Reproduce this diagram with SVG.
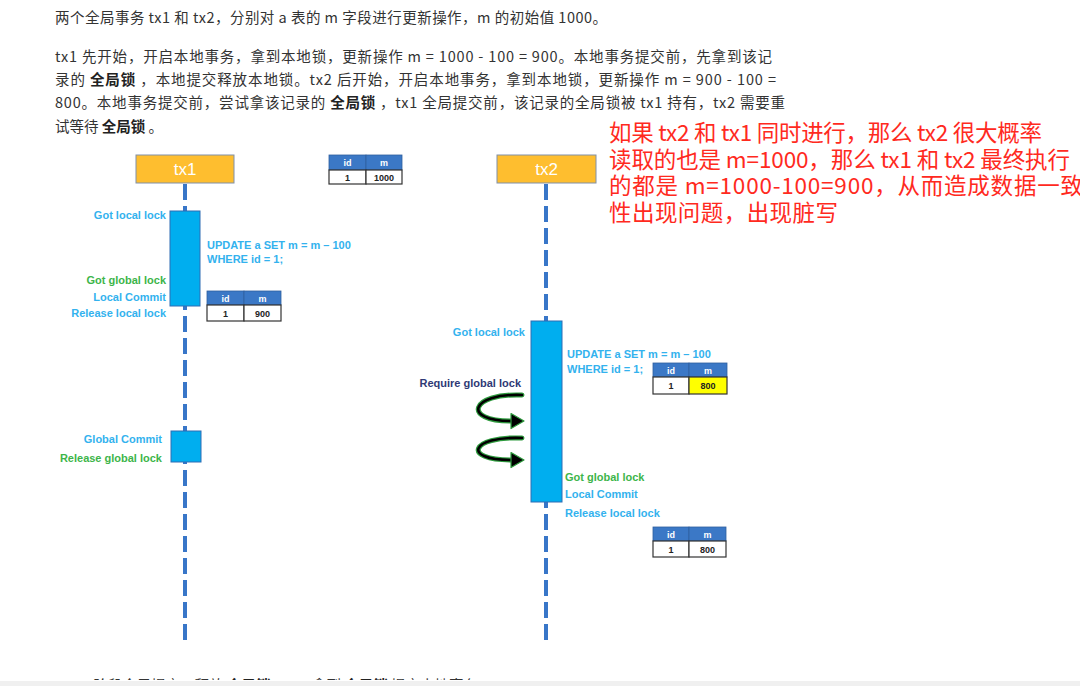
<svg xmlns="http://www.w3.org/2000/svg" width="1080" height="686" viewBox="0 0 1080 686">
<style>
.body{font-family:"Noto Sans CJK SC","Noto Sans",sans-serif;font-size:14.5px;fill:#333}
.b{font-weight:bold;fill:#222}
.note{font-family:"Noto Sans CJK SC","Noto Sans",sans-serif;font-size:22.5px;fill:#FF2A1E}
.lbl{font-family:"Liberation Sans",Arial,sans-serif;font-size:11px;font-weight:bold}
.blue{fill:#33B2EE}
.green{fill:#3DB54A}
.navy{fill:#2F3A75}
.end{text-anchor:end}
.txbox{fill:#FEBE2F;stroke:#8090A8;stroke-width:1}
.txt{font-family:"Liberation Sans",Arial,sans-serif;font-size:17px;fill:#fff;text-anchor:middle}
.act{fill:#00AEEF;stroke:#2E6DB4;stroke-width:1}
.life{stroke:#3876C8;stroke-width:4;stroke-dasharray:16 6;fill:none}
.th{fill:#3B78C6;stroke:#2F5F9E;stroke-width:0.8}
.td{fill:#fff;stroke:#333;stroke-width:1.2}
.tdy{fill:#FFFF00;stroke:#333;stroke-width:1.2}
.tht{font-family:"Liberation Sans",Arial,sans-serif;font-size:9px;font-weight:bold;fill:#fff;text-anchor:middle}
.tdt{font-family:"Liberation Sans",Arial,sans-serif;font-size:9px;font-weight:bold;fill:#222;text-anchor:middle}
.glow{fill:none;stroke:#2E9B3E;stroke-width:5;stroke-linecap:round}
.loop{fill:none;stroke:#000;stroke-width:2.6;stroke-linecap:round}
.head{fill:#000;stroke:#2E9B3E;stroke-width:1.2;stroke-linejoin:round}
</style>
<defs>
<clipPath id="clipBottom"><rect x="0" y="0" width="1080" height="680"/></clipPath>
</defs>
<rect x="0" y="0" width="1080" height="686" fill="#fff"/>

<g id="intro-text" class="body">
<text x="55" y="23" textLength="552" lengthAdjust="spacing">两个全局事务 tx1 和 tx2，分别对 a 表的 m 字段进行更新操作，m 的初始值 1000。</text>
<text x="55" y="62" textLength="717" lengthAdjust="spacing">tx1 先开始，开启本地事务，拿到本地锁，更新操作 m = 1000 - 100 = 900。本地事务提交前，先拿到该记</text>
<text x="55" y="85" textLength="721" lengthAdjust="spacing">录的 <tspan class="b">全局锁</tspan> ，本地提交释放本地锁。tx2 后开始，开启本地事务，拿到本地锁，更新操作 m = 900 - 100 =</text>
<text x="55" y="108" textLength="730" lengthAdjust="spacing">800。本地事务提交前，尝试拿该记录的 <tspan class="b">全局锁</tspan> ，tx1 全局提交前，该记录的全局锁被 tx1 持有，tx2 需要重</text>
<text x="55" y="132">试等待 <tspan class="b">全局锁</tspan> 。</text>
</g>

<g id="bottom-text" class="body" clip-path="url(#clipBottom)">
<text x="55" y="691">tx1 二阶段全局提交，释放 <tspan class="b">全局锁</tspan> 。tx2 拿到 <tspan class="b">全局锁</tspan> 提交本地事务。</text>
</g>
<rect x="0" y="681" width="1080" height="5" fill="#F0F0F0"/>

<g id="connectors">
<line class="life" x1="185" y1="184" x2="185" y2="645"/>
<line class="life" x1="546" y1="184" x2="546" y2="645"/>
<g id="retry-loop-1">
<path class="glow" d="M522,395 C470,393 462,421 511,421"/>
<path class="loop" d="M522,395 C470,393 462,421 511,421"/>
<polygon class="head" points="511,413.5 524,421 511,428.5"/>
</g>
<g id="retry-loop-2">
<path class="glow" d="M522,438 C470,436 462,460 511,460"/>
<path class="loop" d="M522,438 C470,436 462,460 511,460"/>
<polygon class="head" points="511,452.5 524,460 511,467.5"/>
</g>
</g>

<g id="tx1">
<rect class="txbox" x="136" y="155" width="98" height="28"/>
<text class="txt" x="185" y="175">tx1</text>
</g>
<g id="tx2">
<rect class="txbox" x="497" y="155" width="99" height="28"/>
<text class="txt" x="546.5" y="175">tx2</text>
</g>

<g id="tx1-local-tx">
<rect class="act" x="170" y="211" width="30" height="95"/>
<text class="lbl blue end" x="166" y="219">Got local lock</text>
<text class="lbl blue" x="207" y="249">UPDATE a SET m = m – 100</text>
<text class="lbl blue" x="207" y="263">WHERE id = 1;</text>
<text class="lbl green end" x="166" y="284">Got global lock</text>
<text class="lbl blue end" x="166" y="301">Local Commit</text>
<text class="lbl blue end" x="166" y="317">Release local lock</text>
</g>

<g id="tx1-global-commit">
<rect class="act" x="171" y="431" width="30" height="31"/>
<text class="lbl blue end" x="162" y="443">Global Commit</text>
<text class="lbl green end" x="162" y="462">Release global lock</text>
</g>

<g id="tx2-local-tx">
<rect class="act" x="531" y="321" width="31" height="181"/>
<text class="lbl blue end" x="525" y="336">Got local lock</text>
<text class="lbl blue" x="567" y="358">UPDATE a SET m = m – 100</text>
<text class="lbl blue" x="567" y="373">WHERE id = 1;</text>
<text class="lbl navy end" x="521" y="387">Require global lock</text>
<text class="lbl green" x="565" y="481">Got global lock</text>
<text class="lbl blue" x="565" y="498">Local Commit</text>
<text class="lbl blue" x="565" y="517">Release local lock</text>
</g>

<g id="table-1000" transform="translate(329,155)">
<rect class="th" x="0" y="0" width="37" height="15"/>
<rect class="th" x="37" y="0" width="36" height="15"/>
<rect class="td" x="0" y="15" width="37" height="14"/>
<rect class="td" x="37" y="15" width="36" height="14"/>
<text class="tht" x="18.5" y="10.5">id</text>
<text class="tht" x="55" y="10.5">m</text>
<text class="tdt" x="18.5" y="25.5">1</text>
<text class="tdt" x="55" y="25.5">1000</text>
</g>

<g id="table-900" transform="translate(207,291)">
<rect class="th" x="0" y="0" width="37" height="14"/>
<rect class="th" x="37" y="0" width="37" height="14"/>
<rect class="td" x="0" y="14" width="37" height="16"/>
<rect class="td" x="37" y="14" width="37" height="16"/>
<text class="tht" x="18.5" y="10.5">id</text>
<text class="tht" x="55.5" y="10.5">m</text>
<text class="tdt" x="18.5" y="25.5">1</text>
<text class="tdt" x="55.5" y="25.5">900</text>
</g>

<g id="table-800-pending" transform="translate(653,363)">
<rect class="th" x="0" y="0" width="36" height="14"/>
<rect class="th" x="36" y="0" width="38" height="14"/>
<rect class="td" x="0" y="14" width="36" height="17"/>
<rect class="tdy" x="36" y="14" width="38" height="17"/>
<text class="tht" x="18" y="10.5">id</text>
<text class="tht" x="55" y="10.5">m</text>
<text class="tdt" x="18" y="26">1</text>
<text class="tdt" x="55" y="26">800</text>
</g>

<g id="table-800" transform="translate(653,527)">
<rect class="th" x="0" y="0" width="36" height="14"/>
<rect class="th" x="36" y="0" width="37" height="14"/>
<rect class="td" x="0" y="14" width="36" height="16"/>
<rect class="td" x="36" y="14" width="37" height="16"/>
<text class="tht" x="18" y="10.5">id</text>
<text class="tht" x="54.5" y="10.5">m</text>
<text class="tdt" x="18" y="25.5">1</text>
<text class="tdt" x="54.5" y="25.5">800</text>
</g>

<g id="red-note" class="note">
<text x="609" y="141" textLength="433" lengthAdjust="spacing">如果 tx2 和 tx1 同时进行，那么 tx2 很大概率</text>
<text x="609" y="167.5" textLength="461" lengthAdjust="spacing">读取的也是 m=1000，那么 tx1 和 tx2 最终执行</text>
<text x="609" y="194" textLength="474" lengthAdjust="spacing">的都是 m=1000-100=900，从而造成数据一致</text>
<text x="609" y="220.5" textLength="229" lengthAdjust="spacing">性出现问题，出现脏写</text>
</g>
</svg>
